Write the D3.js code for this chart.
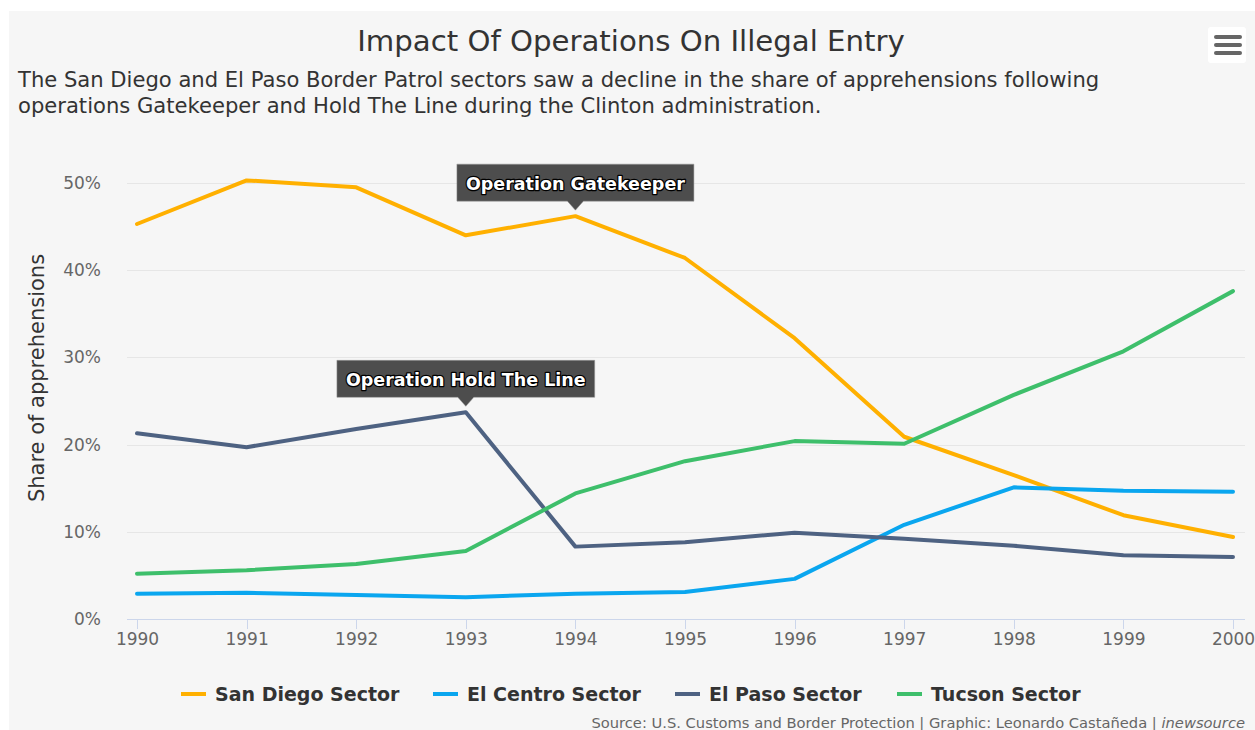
<html lang="en">
  <head>
    <meta charset="utf-8">
    <script src="https://d3js.org/d3.v7.js"></script>
    <style>
      body { margin: 0; background: #fff; font-family: "DejaVu Sans", Verdana, sans-serif; }
      .axis path, .axis line { shape-rendering: crispEdges; }
    </style>
  </head>
  <body>
    <svg id="chart" width="1255" height="730"></svg>
    <script>
      // data
      var years = [1990, 1991, 1992, 1993, 1994, 1995, 1996, 1997, 1998, 1999, 2000];
      var sanDiego = [45.3, 50.3, 49.5, 44.0, 46.2, 41.4, 32.2, 20.9, 16.5, 11.9, 9.4];
      var elCentro = [2.9, 3.0, 2.75, 2.5, 2.9, 3.1, 4.6, 10.8, 15.1, 14.7, 14.6];
      var elPaso = [21.3, 19.7, 21.8, 23.7, 8.3, 8.8, 9.9, 9.2, 8.4, 7.3, 7.1];
      var tucson = [5.2, 5.6, 6.3, 7.8, 14.4, 18.1, 20.4, 20.1, 25.7, 30.7, 37.6];
      var seriesNames = ["San Diego Sector", "El Centro Sector", "El Paso Sector", "Tucson Sector"];
      var seriesColors = ["#ffb000", "#0aa6ef", "#4e6282", "#3ebf6b"];
      var yTicks = [0, 10, 20, 30, 40, 50];
      var annotations = [
        {text: "Operation Gatekeeper", series: 0, year: 1994},
        {text: "Operation Hold The Line", series: 2, year: 1993}
      ];

      var allSeries = [sanDiego, elCentro, elPaso, tucson];

      var svg = d3.select("svg#chart");

      // chart background
      svg.append("rect")
        .attr("x", 9).attr("y", 11)
        .attr("width", 1246).attr("height", 719)
        .attr("fill", "#f6f6f6");

      var plotLeft = 127, plotRight = 1245;

      var xScale = d3.scaleLinear()
        .domain([1990, 2000])
        .range([137, 1233]);

      var yScale = d3.scaleLinear()
        .domain([0, 50])
        .range([619, 183]);

      // title + subtitle
      svg.append("text")
        .attr("x", 631).attr("y", 51)
        .attr("text-anchor", "middle")
        .attr("font-size", 29.2)
        .attr("fill", "#333")
        .text("Impact Of Operations On Illegal Entry");

      var subtitle = svg.append("text")
        .attr("font-size", 21.1)
        .attr("fill", "#333");
      subtitle.append("tspan").attr("x", 18).attr("y", 87)
        .text("The San Diego and El Paso Border Patrol sectors saw a decline in the share of apprehensions following");
      subtitle.append("tspan").attr("x", 18).attr("y", 113)
        .text("operations Gatekeeper and Hold The Line during the Clinton administration.");

      // menu button
      var menu = svg.append("g");
      menu.append("rect")
        .attr("x", 1208).attr("y", 27).attr("width", 38).attr("height", 36)
        .attr("rx", 3).attr("fill", "#fff");
      [37, 45, 53].forEach(function(yy) {
        menu.append("line")
          .attr("x1", 1216).attr("x2", 1240)
          .attr("y1", yy).attr("y2", yy)
          .attr("stroke", "#666").attr("stroke-width", 4)
          .attr("stroke-linecap", "round");
      });

      // y axis with gridlines
      var yAxis = d3.axisLeft(yScale)
        .tickValues(yTicks)
        .tickSize(-(plotRight - plotLeft))
        .tickPadding(26)
        .tickFormat(d => d + "%");

      var gy = svg.append("g")
        .attr("class", "axis")
        .attr("transform", `translate(${plotLeft}, 0)`)
        .call(yAxis);
      gy.select(".domain").remove();
      gy.selectAll(".tick line").attr("stroke", "#e6e6e6");
      gy.selectAll(".tick text")
        .attr("fill", "#666")
        .attr("font-size", 17)
        .attr("font-family", "DejaVu Sans, Verdana, sans-serif");

      svg.append("text")
        .attr("transform", "translate(44, 378) rotate(-90)")
        .attr("text-anchor", "middle")
        .attr("font-size", 21)
        .attr("fill", "#333")
        .text("Share of apprehensions");

      // x axis
      var xAxis = d3.axisBottom(xScale)
        .tickValues(years)
        .tickSize(10)
        .tickPadding(4)
        .tickFormat(d3.format("d"));

      var gx = svg.append("g")
        .attr("class", "axis")
        .attr("transform", "translate(0, 619)")
        .call(xAxis);
      gx.select(".domain")
        .attr("d", `M${plotLeft},0.5H${plotRight}`)
        .attr("stroke", "#ccd6eb");
      gx.selectAll(".tick line").attr("stroke", "#ccd6eb");
      gx.selectAll(".tick text")
        .attr("fill", "#666")
        .attr("font-size", 17)
        .attr("font-family", "DejaVu Sans, Verdana, sans-serif");

      // lines
      var line = d3.line()
        .x((d, i) => xScale(years[i]))
        .y(d => yScale(d));

      svg.append("g").selectAll("path")
        .data(allSeries)
        .enter()
        .append("path")
        .attr("d", line)
        .attr("fill", "none")
        .attr("stroke", (d, i) => seriesColors[i])
        .attr("stroke-width", 4)
        .attr("stroke-linejoin", "round")
        .attr("stroke-linecap", "round");

      // annotation callouts
      annotations.forEach(function(a) {
        var px = xScale(a.year);
        var py = yScale(allSeries[a.series][years.indexOf(a.year)]);
        var g = svg.append("g");
        var txt = g.append("text")
          .attr("x", px)
          .attr("y", py - 26)
          .attr("text-anchor", "middle")
          .attr("font-size", 17.5)
          .attr("font-weight", "bold")
          .attr("fill", "#fff")
          .attr("stroke", "#000")
          .attr("stroke-width", 2.5)
          .attr("stroke-linejoin", "round")
          .attr("paint-order", "stroke")
          .text(a.text);
        var w = txt.node().getComputedTextLength() + 18;
        var top = py - 52, bottom = py - 15, tipY = py - 6;
        g.insert("path", "text")
          .attr("d", `M${px - w / 2},${top}H${px + w / 2}V${bottom}H${px + 8}L${px},${tipY}L${px - 8},${bottom}H${px - w / 2}Z`)
          .attr("fill", "#4d4d4d")
          .attr("stroke", "#999")
          .attr("stroke-width", 0.5);
      });

      // legend
      var legendX = [181, 433, 675, 897];
      var legend = svg.append("g");
      seriesNames.forEach(function(name, i) {
        legend.append("line")
          .attr("x1", legendX[i]).attr("x2", legendX[i] + 25)
          .attr("y1", 694).attr("y2", 694)
          .attr("stroke", seriesColors[i])
          .attr("stroke-width", 4);
        legend.append("text")
          .attr("x", legendX[i] + 34)
          .attr("y", 701)
          .attr("font-size", 19)
          .attr("font-weight", "bold")
          .attr("fill", "#333")
          .text(name);
      });

      // credits
      var credit = svg.append("text")
        .attr("x", 1245).attr("y", 728)
        .attr("text-anchor", "end")
        .attr("font-size", 14.7)
        .attr("fill", "#666");
      credit.append("tspan").text("Source: U.S. Customs and Border Protection | Graphic: Leonardo Castañeda | ");
      credit.append("tspan").attr("font-style", "italic").text("inewsource");
    </script>
  </body>
</html>
